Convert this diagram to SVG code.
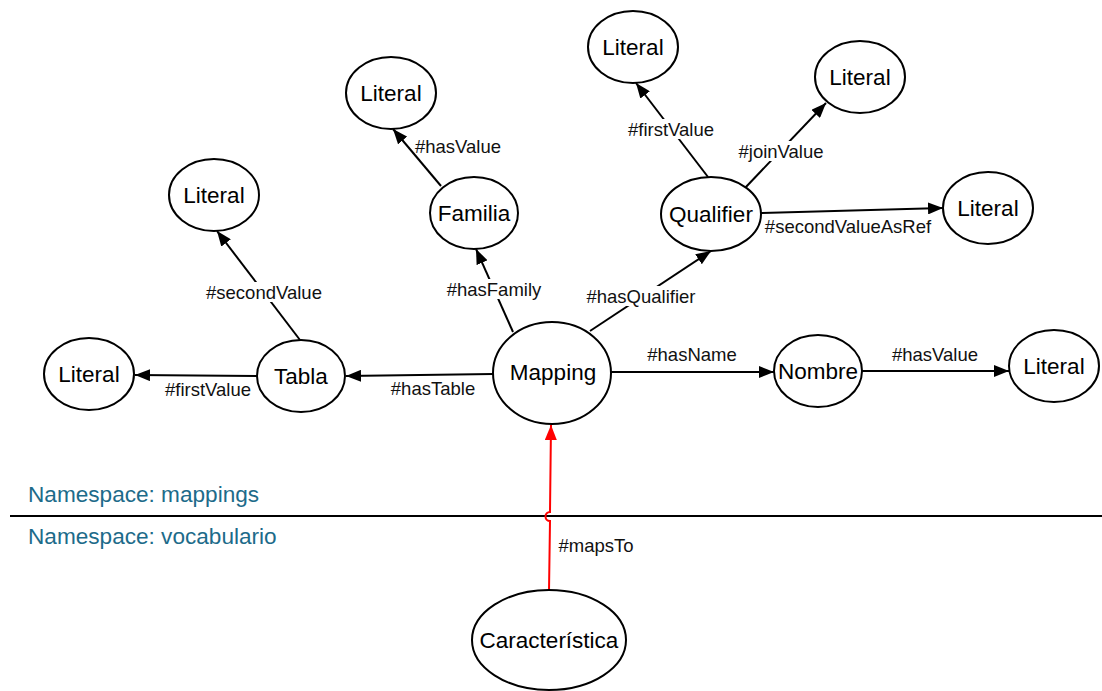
<svg xmlns="http://www.w3.org/2000/svg" width="1102" height="691" viewBox="0 0 1102 691">
<defs>
<marker id="ah" markerUnits="userSpaceOnUse" markerWidth="16" markerHeight="12" refX="15" refY="6" orient="auto"><path d="M0,0 L15,6 L0,12 z" fill="#000"/></marker>
<marker id="ahr" markerUnits="userSpaceOnUse" markerWidth="16" markerHeight="12" refX="15" refY="6" orient="auto"><path d="M0,0 L15,6 L0,12 z" fill="#ff0000"/></marker>
<style>
.n ellipse{fill:#fff;stroke:#000;stroke-width:2}
.n text{font-family:"Liberation Sans",Arial,sans-serif;font-size:22.5px;fill:#000;text-anchor:middle;dominant-baseline:central}
.e path{fill:none;stroke:#000;stroke-width:2;marker-end:url(#ah)}
.e path.red{stroke:#ff0000;marker-end:url(#ahr)}
.lbl{font-family:"Liberation Sans",Arial,sans-serif;font-size:18.5px;fill:#111;text-anchor:middle;dominant-baseline:central}
.bg{fill:#fff}
.ns{font-family:"Liberation Sans",Arial,sans-serif;font-size:22.6px;fill:#1d6b8a}
</style>
</defs>
<rect width="1102" height="691" fill="#fff"/>
<line x1="10" y1="516" x2="1102" y2="516" stroke="#000" stroke-width="2"/>
<text class="ns" x="28" y="502">Namespace: mappings</text>
<text class="ns" x="28" y="544">Namespace: vocabulario</text>
<g id="connectors" class="e">
<path d="M493,374 L346,376"/>
<path d="M257,376 L135,375"/>
<path d="M300,340 L217,231"/>
<path d="M513,332 L476,249"/>
<path d="M441,186 L393,129"/>
<path d="M590,331 L711,251"/>
<path d="M708,177 L636,83"/>
<path d="M745,188 L826,103"/>
<path d="M761,213 L943,208"/>
<path d="M611,372 L774,372"/>
<path d="M862,371 L1009,371"/>
<path class="red" d="M549,591 L550,521 A4.5,4.5 0 0 1 550,512 L551,425"/>
<rect class="bg" x="203" y="282" width="122" height="20"/>
<rect class="bg" x="444" y="279" width="100" height="20"/>
<rect class="bg" x="583" y="286" width="116" height="20"/>
<rect class="bg" x="625" y="119" width="92" height="20"/>
<rect class="bg" x="736" y="141" width="90" height="20"/>
<text class="lbl" x="433" y="388">#hasTable</text>
<text class="lbl" x="208" y="389">#firstValue</text>
<text class="lbl" x="264" y="292">#secondValue</text>
<text class="lbl" x="494" y="289">#hasFamily</text>
<text class="lbl" x="458" y="146">#hasValue</text>
<text class="lbl" x="641" y="296">#hasQualifier</text>
<text class="lbl" x="671" y="129">#firstValue</text>
<text class="lbl" x="781" y="151">#joinValue</text>
<text class="lbl" x="848" y="226">#secondValueAsRef</text>
<text class="lbl" x="692" y="354">#hasName</text>
<text class="lbl" x="935" y="354">#hasValue</text>
<text class="lbl" x="596" y="545">#mapsTo</text>
</g>
<g id="mapping" class="n"><ellipse cx="552" cy="373" rx="59" ry="51"/><text x="553" y="372">Mapping</text></g>
<g id="tabla" class="n"><ellipse cx="301" cy="376" rx="44" ry="36"/><text x="301" y="376">Tabla</text></g>
<g id="literal-tabla-first" class="n"><ellipse cx="89" cy="374" rx="45" ry="36"/><text x="89" y="374">Literal</text></g>
<g id="literal-tabla-second" class="n"><ellipse cx="214" cy="195" rx="45" ry="36"/><text x="214" y="195">Literal</text></g>
<g id="familia" class="n"><ellipse cx="474" cy="213" rx="44" ry="36"/><text x="474" y="213">Familia</text></g>
<g id="literal-familia" class="n"><ellipse cx="391" cy="93" rx="45" ry="36"/><text x="391" y="93">Literal</text></g>
<g id="qualifier" class="n"><ellipse cx="711" cy="214" rx="50" ry="37"/><text x="711" y="214">Qualifier</text></g>
<g id="literal-q-first" class="n"><ellipse cx="633" cy="47" rx="45" ry="36"/><text x="633" y="47">Literal</text></g>
<g id="literal-q-join" class="n"><ellipse cx="860" cy="77" rx="45" ry="36"/><text x="860" y="77">Literal</text></g>
<g id="literal-q-second" class="n"><ellipse cx="988" cy="208" rx="45" ry="36"/><text x="988" y="208">Literal</text></g>
<g id="nombre" class="n"><ellipse cx="818" cy="371" rx="44" ry="36"/><text x="818" y="371">Nombre</text></g>
<g id="literal-nombre" class="n"><ellipse cx="1054" cy="366" rx="45" ry="36"/><text x="1054" y="366">Literal</text></g>
<g id="caracteristica" class="n"><ellipse cx="549" cy="640" rx="77" ry="50"/><text x="549" y="640">Característica</text></g>
</svg>
